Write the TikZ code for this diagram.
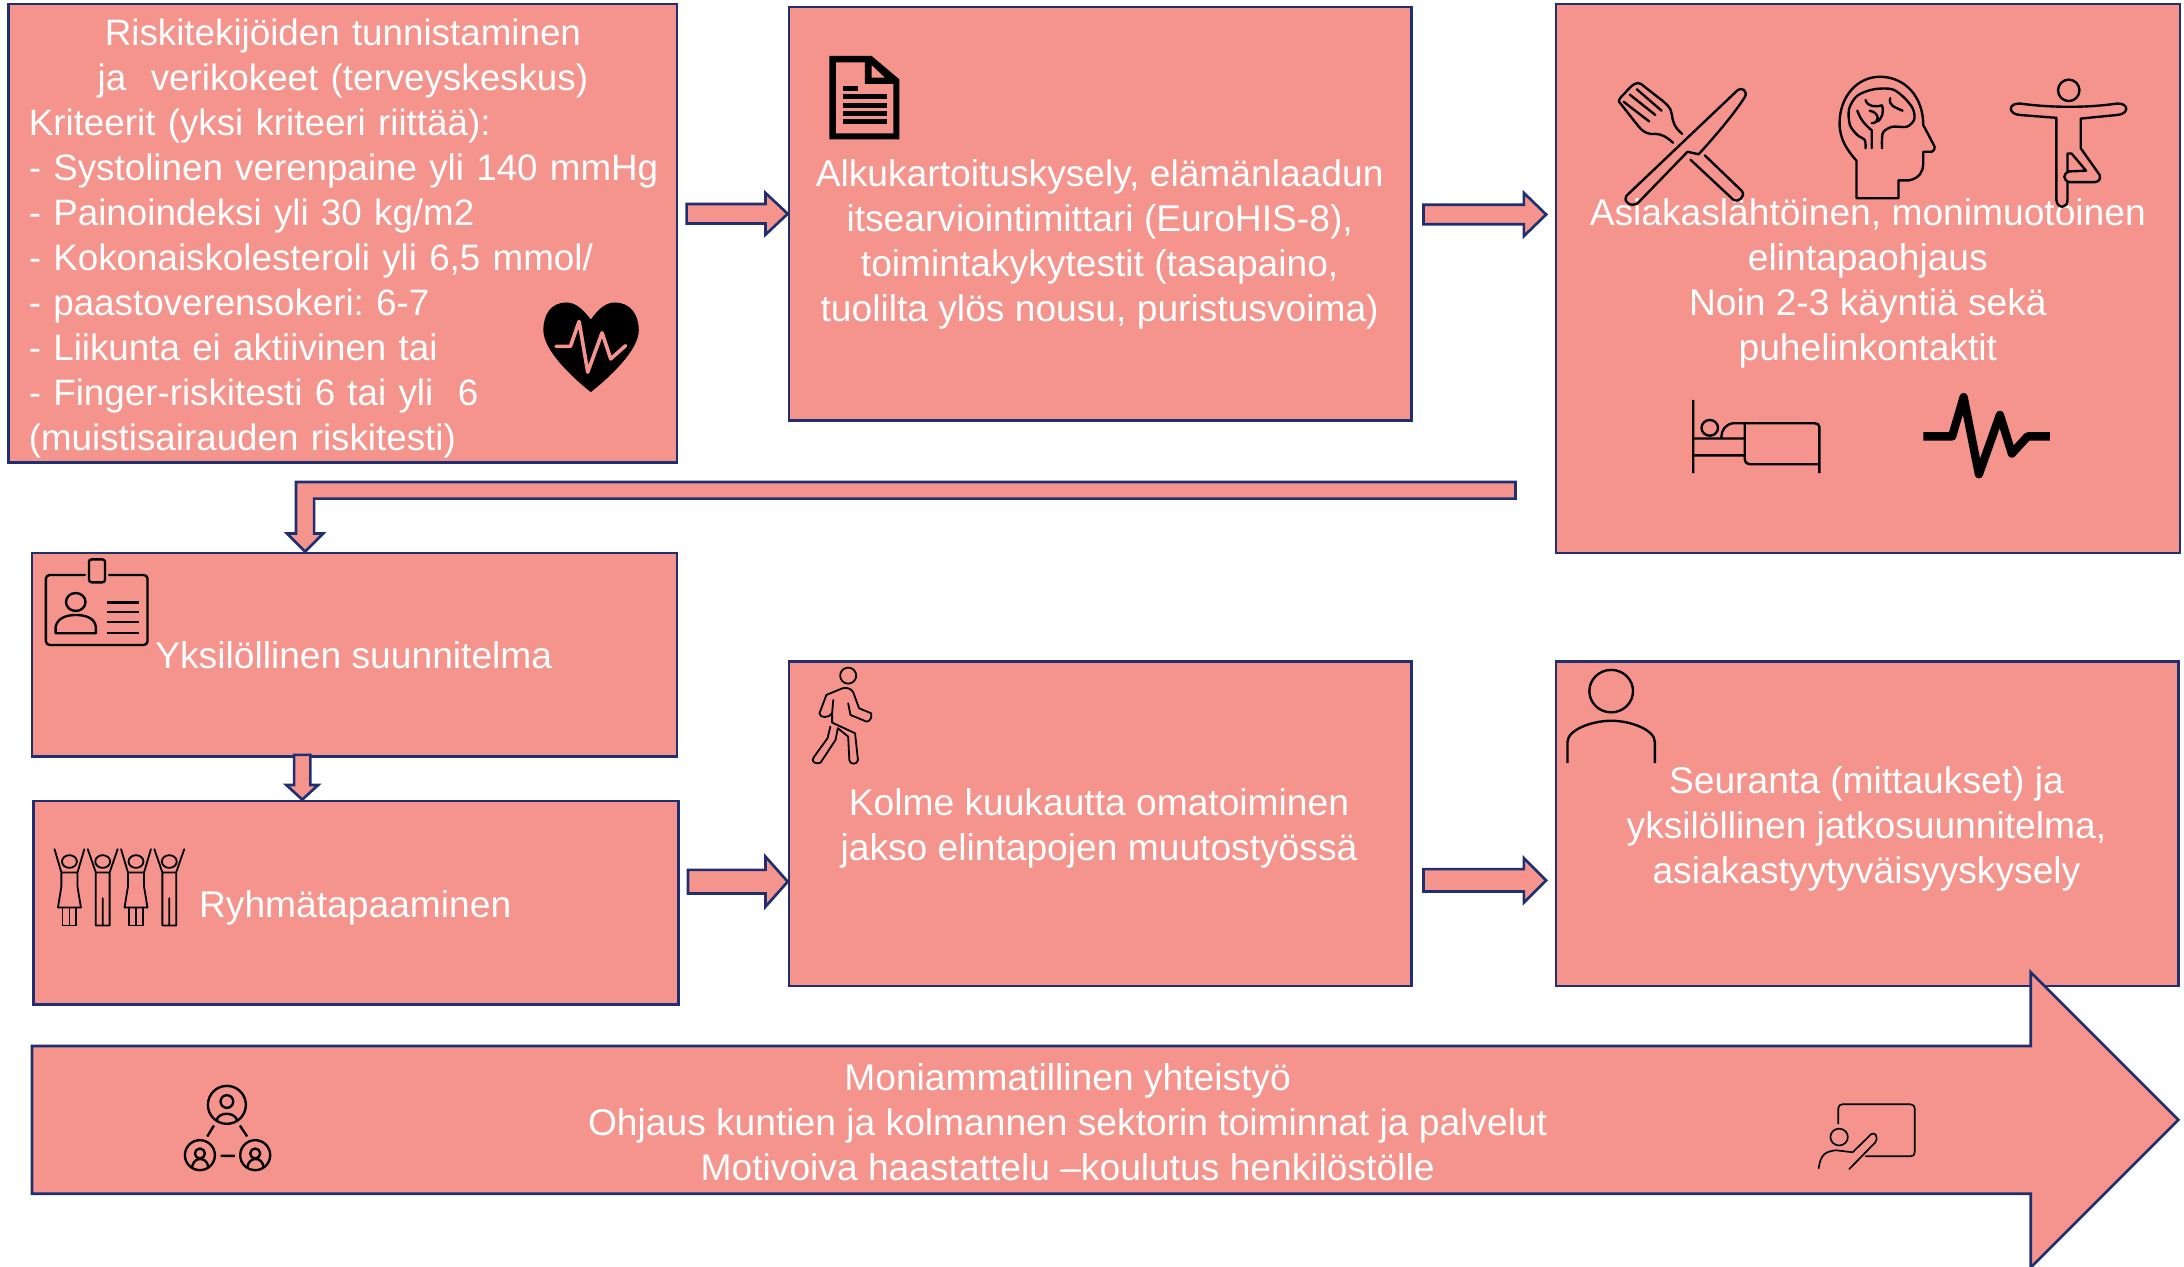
\documentclass[tikz,border=0pt]{standalone}
\usepackage{fontspec}
\setmainfont{Liberation Sans}
\usetikzlibrary{positioning,calc}
\definecolor{boxfill}{HTML}{F4948D}
\definecolor{boxline}{HTML}{1F2F6F}
\newcommand{\blockarrowright}[4]{\draw[blockarrow] let \p1=(#1),\p2=(#2) in
  (\x1,\y2+#3pt) -- (\x2-16pt,\y2+#3pt) -- (\x2-16pt,\y2+#4pt) -- (\x2,\y2)
  -- (\x2-16pt,\y2-#4pt) -- (\x2-16pt,\y2-#3pt) -- (\x1,\y2-#3pt) -- cycle;}
\begin{document}
\begin{tikzpicture}[x=1pt,y=-1pt,
    stepbox/.style={shape=rectangle, draw=boxline, fill=boxfill, line width=1.9pt, inner sep=0pt},
    blockarrow/.style={draw=boxline, fill=boxfill, line width=1.9pt, line join=miter},
    boxtext/.style={text=white, align=center, inner sep=0pt, font=\fontsize{26.7}{32.3}\selectfont\frenchspacing},
    icon/.style={draw=black, line width=1.7pt, line join=round, line cap=round},
    zoomA/.style={x=.3663pt, y=-.2564pt},
    zoomB/.style={shift={(1105.6,0)}, x=.2959pt, y=-.2564pt},
    zoomC/.style={shift={(0,387.7)}, x=.412pt, y=-.2392pt},
    zoomD/.style={shift={(1076.8,459.4)}, x=.3135pt, y=-.2874pt},
    zoomE/.style={shift={(0,739.4)}, x=.2392pt, y=-.2392pt},
    zoomF/.style={shift={(560,0)}, x=.2392pt, y=-.2392pt}
    ]
    \useasboundingbox (0,0) rectangle (1568,909.6);
    % boxes
    \node[stepbox, minimum width=480pt, minimum height=329pt] (riski) at (246,167.5) {};
    \node[stepbox, minimum width=447pt, minimum height=297pt] (alku) at (790,153.5) {};
    \node[stepbox, minimum width=448pt, minimum height=394pt] (ohjaus) at (1341,200) {};
    \node[stepbox, minimum width=463pt, minimum height=146pt] (yksilo) at (254.5,470) {};
    \node[stepbox, minimum width=463pt, minimum height=146pt] (ryhma) at (255.5,648) {};
    \node[stepbox, minimum width=447pt, minimum height=233pt] (kolme) at (790,591.5) {};
    \node[stepbox, minimum width=447pt, minimum height=233pt] (seuranta) at (1340.5,591.5) {};
    % arrows
    \coordinate (riskiout) at ($(riski.east)+(6,0)$);
    \coordinate (alkuout) at ($(alku.east)+(7.5,0)$);
    \coordinate (ohjausin) at ($(ohjaus.west)+(-6,-46)$);
    \coordinate (ryhmaout) at ($(ryhma.east)+(6,0)$);
    \coordinate (kolmein) at ($(kolme.west)+(0,41.5)$);
    \coordinate (kolmeout) at ($(kolme.east)+(7.5,0)$);
    \coordinate (seurantain) at ($(seuranta.west)+(-6,40.5)$);
    \coordinate (ohjausback) at ($(ohjaus.west)+(-28,152)$);
    \coordinate (yksiloin) at ($(yksilo.north)+(-35.5,0)$);
    \coordinate (yksiloout) at ($(yksilo.south)+(-37.5,-2)$);
    \coordinate (ryhmain) at ($(ryhma.north)+(-38.5,0)$);
    \blockarrowright{riskiout}{alku.west}{7}{15}
    \blockarrowright{alkuout}{ohjausin}{7}{15.5}
    \blockarrowright{ryhmaout}{kolmein}{8.5}{18}
    \blockarrowright{kolmeout}{seurantain}{8}{16}
    \draw[blockarrow] let \p1=(ohjausback),\p2=(yksiloin) in
      (\x1,\y1+6pt) -- (\x2-6.5pt,\y1+6pt) -- (\x2-6.5pt,\y2+13pt) -- (\x2-13pt,\y2+13pt)
      -- (\x2,\y2) -- (\x2+13pt,\y2+13pt) -- (\x2+6.5pt,\y2+13pt) -- (\x2+6.5pt,\y1-6pt)
      -- (\x1,\y1-6pt) -- cycle;
    \draw[blockarrow] let \p1=(yksiloout),\p2=(ryhmain) in
      (\x2-5.8pt,\y1) -- (\x2-5.8pt,\y2+10.5pt) -- (\x2-11.5pt,\y2+10.5pt) -- (\x2,\y2)
      -- (\x2+11.5pt,\y2+10.5pt) -- (\x2+5.8pt,\y2+10.5pt) -- (\x2+5.8pt,\y1) -- cycle;
    \draw[blockarrow] (23,751) -- (1458,751) -- (1458,698) -- (1564,804) -- (1458,910)
      -- (1458,857) -- (23,857) -- cycle;
    % texts
    \node[boxtext, anchor=north west, text width=451pt, align=left, font=\fontsize{26.4}{32.3}\selectfont\frenchspacing] (riskitext) at (20.5,13.5)
      {\centering Riskitekijöiden tunnistaminen\\ ja\ \ verikokeet (terveyskeskus)\par
       \raggedright Kriteerit (yksi kriteeri riittää):\\ \mbox{- Systolinen verenpaine yli 140 mmHg}\\
       - Painoindeksi yli 30 kg/m2\\ - Kokonaiskolesteroli yli 6,5 mmol/\\ - paastoverensokeri: 6-7\\
       - Liikunta ei aktiivinen tai\\ - Finger-riskitesti 6 tai yli\ \ 6\\ (muistisairauden riskitesti)};
    \node[boxtext] (alkutext) at (789.5,175.5) {Alkukartoituskysely, elämänlaadun\\
      itsearviointimittari (EuroHIS-8),\\ toimintakykytestit (tasapaino,\\
      tuolilta ylös nousu, puristusvoima)};
    \node[boxtext] (ohjaustext) at (1341,203.5) {Asiakaslähtöinen, monimuotoinen\\
      elintapaohjaus\\ Noin 2-3 käyntiä sekä\\ puhelinkontaktit};
    \node[boxtext] (yksilotext) at (254,470.5) {Yksilöllinen suunnitelma};
    \node[boxtext] (ryhmatext) at (255,652) {Ryhmätapaaminen};
    \node[boxtext] (kolmetext) at (789,595) {Kolme kuukautta omatoiminen\\ jakso elintapojen muutostyössä};
    \node[boxtext] (seurantatext) at (1340,595) {Seuranta (mittaukset) ja\\
      yksilöllinen jatkosuunnitelma,\\ asiakastyytyväisyyskysely};
    \node[boxtext] (yhteistext) at (766.5,806) {Moniammatillinen yhteistyö\\
      Ohjaus kuntien ja kolmannen sektorin toiminnat ja palvelut\\
      Motivoiva haastattelu --koulutus henkilöstölle};
    % heart
    \begin{scope}[zoomA]
      \fill[black] (1158,895) .. controls (1140,860) and (1125,847) .. (1110,847)
        .. controls (1080,847) and (1065,880) .. (1065,925)
        .. controls (1065,980) and (1120,1055) .. (1158,1098)
        .. controls (1196,1055) and (1252,980) .. (1252,925)
        .. controls (1252,880) and (1235,847) .. (1205,847)
        .. controls (1190,847) and (1175,860) .. (1158,895) -- cycle;
      \draw[boxfill, line width=2.6pt, line join=round, line cap=round] (1090,970) -- (1118,970) -- (1135,900)
        -- (1152,1042) -- (1180,932) -- (1197,1005) -- (1226,968);
    \end{scope}
    % document
    \begin{scope}[zoomF]
      \fill[black, even odd rule] (148,168) -- (275,168) -- (358,238) -- (358,418) -- (148,418) -- cycle
        (168,187) -- (255,187) -- (255,252) -- (340,252) -- (340,400) -- (168,400) -- cycle
        (275,195) -- (315,233) -- (275,233) -- cycle;
      \fill[black] (189,258) rectangle (234,272);
      \foreach \liney in {282,309,333,357}
        \fill[black] (189,\liney) rectangle (321,\liney+15);
    \end{scope}
    % fork and knife, head, yoga, bed, pulse
    \begin{scope}[zoomB]
      \draw[icon] (210,548) -- (480,252) .. controls (490,243) and (505,255) .. (497,272)
        .. controls (470,320) and (430,375) .. (385,432) -- (358,425) -- (238,568)
        .. controls (225,580) and (200,570) .. (210,548) -- cycle;
      \draw[icon] (365,447) -- (468,558) .. controls (480,570) and (500,550) .. (490,535) -- (400,435);
      \draw[icon] (345,375) .. controls (325,355) and (322,340) .. (320,320) .. controls (318,300) and (305,290) .. (295,280)
        -- (245,235) .. controls (235,228) and (225,235) .. (205,262) .. controls (195,272) and (190,282) .. (192,285)
        -- (240,355) .. controls (250,370) and (265,378) .. (280,375)
        .. controls (295,375) and (310,385) .. (323,400);
      \draw[icon] (235,250) -- (295,310) (218,265) -- (280,322) (203,285) -- (265,340);
      \draw[icon] (768,555) -- (870,555) -- (870,505) -- (895,505) .. controls (920,500) and (930,480) .. (930,460)
        -- (930,425) -- (950,425) .. controls (958,422) and (960,412) .. (955,405) -- (930,350)
        .. controls (930,270) and (885,215) .. (825,215) .. controls (770,215) and (727,270) .. (727,345)
        .. controls (727,390) and (745,420) .. (768,450) -- cycle;
      \draw[icon] plot[smooth] coordinates {(790,415) (788,392) (770,378) (752,350) (750,305) (770,268) (810,250)
        (855,250) (885,275) (905,305) (908,335) (890,355) (855,355) (832,372) (830,415)};
      \draw[icon] (805,415) -- (805,365) .. controls (790,350) and (780,340) .. (770,310)
        (805,345) .. controls (825,345) and (825,315) .. (800,310) (790,280) .. controls (795,300) and (815,300) .. (830,295)
        (850,275) .. controls (845,295) and (860,300) .. (880,310) (830,295) .. controls (835,315) and (830,330) .. (820,340);
      \draw[icon] (1283,253) ellipse [x radius=26, y radius=30];
      \draw[icon] (1253,330) -- (1165,322) .. controls (1135,320) and (1135,288) .. (1165,290)
        .. controls (1240,302) and (1330,302) .. (1400,290) .. controls (1430,288) and (1430,320) .. (1400,322) -- (1312,332)
        -- (1312,415) -- (1358,490) .. controls (1362,505) and (1352,510) .. (1345,510) -- (1285,510)
        .. controls (1268,505) and (1268,485) .. (1285,480) -- (1325,478) -- (1290,430) -- (1280,430) -- (1280,482);
      \draw[icon] (1253,330) -- (1253,560) .. controls (1255,585) and (1280,585) .. (1280,560) -- (1280,510);
      \draw[icon, line cap=butt] (372,1120) -- (372,1325) (678,1325) -- (678,1195)
        .. controls (678,1188) and (672,1185) .. (665,1185) -- (470,1185) .. controls (450,1187) and (440,1205) .. (440,1225)
        (372,1228) -- (497,1228) (372,1275) -- (497,1275) (497,1185) -- (497,1285)
        .. controls (497,1295) and (503,1300) .. (512,1300) -- (678,1300);
      \draw[icon] (412,1198) ellipse [x radius=20, y radius=22];
      \draw[black, line width=6pt, line join=round] (930,1222) -- (1000,1222) -- (1028,1112) -- (1065,1328)
        -- (1116,1162) -- (1145,1270) -- (1183,1222) -- (1237,1222);
    \end{scope}
    % badge, group, walker
    \begin{scope}[zoomC]
      \draw[icon] (87,105) -- (148,105) (190,105) -- (250,105) to[out=0,in=90] (257,115) -- (257,305) to[out=-90,in=0] (250,315)
        -- (87,315) to[out=180,in=-90] (80,305) -- (80,115) to[out=90,in=180] (87,105);
      \draw[icon] (160,58) -- (178,58) to[out=0,in=90] (183,65) -- (183,120) to[out=-90,in=0] (178,127) -- (160,127)
        to[out=180,in=-90] (155,120) -- (155,65) to[out=90,in=180] (160,58);
      \draw[icon] (132,186) ellipse [x radius=17, y radius=27];
      \draw[icon] (97,280) -- (97,260) .. controls (100,235) and (115,225) .. (132,225)
        .. controls (150,225) and (165,235) .. (167,260) -- (167,280) -- cycle;
      \foreach \liney in {187,217,247,280}
        \draw[icon, line cap=butt] (186,\liney) -- (242,\liney);
      \foreach \px in {121,237} {
        \draw[icon, line width=1.3pt] (\px,965) ellipse [x radius=13, y radius=19];
        \draw[icon, line width=1.3pt] (\px-26,928) -- (\px-14,998) -- (\px-14,1040) -- (\px-20,1103) -- (\px+20,1103)
          -- (\px+14,1040) -- (\px+14,998) -- (\px+26,928) (\px-14,998) -- (\px+14,998);
        \draw[icon, line width=1.3pt] (\px-12,1103) -- (\px-12,1157) -- (\px+12,1157) -- (\px+12,1103) (\px,1103) -- (\px,1157);
      }
      \foreach \px in {179,295} {
        \draw[icon, line width=1.3pt] (\px,965) ellipse [x radius=13, y radius=19];
        \draw[icon, line width=1.3pt] (\px-26,928) -- (\px-12,998) -- (\px-12,1157) -- (\px+12,1157) -- (\px+12,998)
          -- (\px+26,928) (\px-12,998) -- (\px+12,998) (\px,1075) -- (\px,1157);
      }
      \draw[icon, line width=1.3pt] (1478,407) ellipse [x radius=14, y radius=24];
      \draw[icon, line width=1.3pt] (1468,445) -- (1440,465) -- (1428,520) .. controls (1428,535) and (1445,535) .. (1450,520) -- (1452,480)
        (1468,445) .. controls (1478,440) and (1485,450) .. (1487,458) -- (1497,505) -- (1518,520)
        .. controls (1520,535) and (1515,545) .. (1510,545) -- (1482,525) -- (1478,490)
        (1450,525) -- (1450,548) -- (1490,580) -- (1495,660) .. controls (1495,675) and (1480,675) .. (1480,660) -- (1478,590) -- (1460,565)
        -- (1456,600) -- (1430,668) .. controls (1422,675) and (1412,665) .. (1418,652) -- (1442,595) -- (1447,560);
    \end{scope}
    % person, teacher
    \begin{scope}[zoomD]
      \draw[icon, line cap=butt] (255,128) ellipse [x radius=50, y radius=53];
      \draw[icon, line cap=butt] (155,308) -- (155,255) .. controls (155,225) and (210,202) .. (255,202)
        .. controls (300,202) and (355,225) .. (355,255) -- (355,308);
      \draw[icon, line width=1.2pt] (775,1208) -- (775,1170) .. controls (775,1163) and (780,1160) .. (785,1160) -- (940,1160)
        .. controls (947,1160) and (950,1165) .. (950,1170) -- (950,1280) .. controls (950,1287) and (947,1290) .. (940,1290) -- (838,1290);
      \draw[icon, line width=1.2pt] (777,1242) ellipse [x radius=20, y radius=21];
      \draw[icon, line width=1.2pt] (730,1320) .. controls (735,1285) and (745,1278) .. (770,1275) -- (808,1280) -- (850,1235)
        .. controls (858,1228) and (868,1240) .. (860,1255) -- (800,1322);
    \end{scope}
    % network
    \begin{scope}[zoomE]
      \foreach \cx/\cy/\rad in {681/225/57, 600/376/45, 766/376/45}
        \draw[icon] (\cx,\cy) circle [radius=\rad];
      \draw[icon, line cap=butt] (642,287) -- (622,320) (720,287) -- (742,320) (662,378) -- (705,378);
      \draw[icon] (681,215) circle [radius=19] (600,371) circle [radius=15] (766,371) circle [radius=15];
      \draw[icon] (650,272) .. controls (655,245) and (705,245) .. (712,272)
        (577,410) .. controls (582,380) and (620,380) .. (625,410) (743,410) .. controls (748,380) and (786,380) .. (791,410);
    \end{scope}
\end{tikzpicture}
\end{document}
